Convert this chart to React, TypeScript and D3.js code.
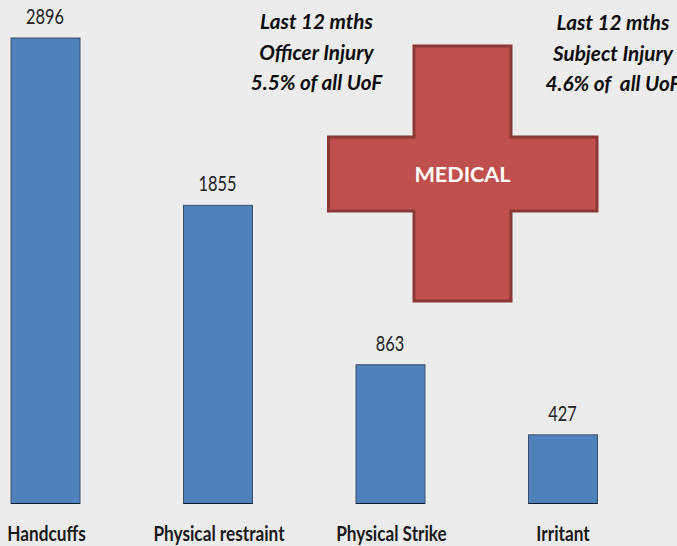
import React from "react";
import * as d3 from "d3";

const categories = ["Handcuffs", "Physical restraint", "Physical Strike", "Irritant"];
const counts = [2896, 1855, 863, 427];
const officerNote = ["Last 12 mths", "Officer Injury", "5.5% of all UoF"];
const subjectNote = ["Last 12 mths", "Subject Injury", "4.6% of  all UoF"];
const medicalLabel = "MEDICAL";

const W = 677;
const H = 546;
const FONT = "Lato, 'Open Sans', sans-serif";

const x = d3.scaleBand<string>().domain(categories).range([11, 597.5]).paddingInner(0.6).paddingOuter(0);
const y = d3.scaleLinear().domain([0, 2896]).range([503.5, 38]);

function crossPath(x0: number, x1: number, x2: number, x3: number, y0: number, y1: number, y2: number, y3: number) {
  const p = d3.path();
  p.moveTo(x1, y0);
  p.lineTo(x2, y0);
  p.lineTo(x2, y1);
  p.lineTo(x3, y1);
  p.lineTo(x3, y2);
  p.lineTo(x2, y2);
  p.lineTo(x2, y3);
  p.lineTo(x1, y3);
  p.lineTo(x1, y2);
  p.lineTo(x0, y2);
  p.lineTo(x0, y1);
  p.lineTo(x1, y1);
  p.closePath();
  return p.toString();
}

function Narrow({ cx, cy, sx, children, ...rest }: any) {
  return (
    <text transform={`translate(${cx},${cy}) scale(${sx},1)`} textAnchor="middle" fontFamily={FONT} {...rest}>
      {children}
    </text>
  );
}

export default function App() {
  return (
    <svg width={W} height={H} style={{ position: "absolute", left: 0, top: 0, display: "block" }}>
      <rect width={W} height={H} fill="#ececec" />
      {categories.map((c, i) => {
        const bx = x(c)!;
        const cx = bx + x.bandwidth() / 2;
        return (
          <g key={c}>
            <rect x={bx} y={y(counts[i])} width={x.bandwidth()} height={y(0) - y(counts[i])} fill="#4f81bd" stroke="#3a5068" strokeWidth={1} />
            <line x1={bx} x2={bx + x.bandwidth()} y1={y(0)} y2={y(0)} stroke="#10202f" strokeWidth={1} />
            <Narrow cx={cx - 0.5} cy={y(counts[i]) - 14} sx={0.78} fontSize={21} fill="#222">{counts[i]}</Narrow>
            <Narrow cx={cx + (i === 3 ? 0 : 1)} cy={541} sx={0.82} fontSize={21} fontWeight={700} fill="#1a1a1a">{c}</Narrow>
          </g>
        );
      })}
      <path d={crossPath(328.5, 414, 511, 597, 46, 137, 211, 301)} fill="#c0504d" stroke="#8c3836" strokeWidth={3} />
      <text x={462.5} y={182} textAnchor="middle" fontFamily={FONT} fontSize={21.6} fontWeight={700} fill="#fff">{medicalLabel}</text>
      {officerNote.map((t, i) => (
        <text key={i} x={316.5} y={29 + i * 30.5} textAnchor="middle" fontFamily={FONT} fontSize={20.7} fontWeight={700} fontStyle="italic" fill="#0c0c0c">{t}</text>
      ))}
      {subjectNote.map((t, i) => (
        <text key={i} x={613} y={30 + i * 30.5} textAnchor="middle" fontFamily={FONT} fontSize={20.7} fontWeight={700} fontStyle="italic" fill="#0c0c0c" style={{ whiteSpace: "pre" }}>{t}</text>
      ))}
    </svg>
  );
}
